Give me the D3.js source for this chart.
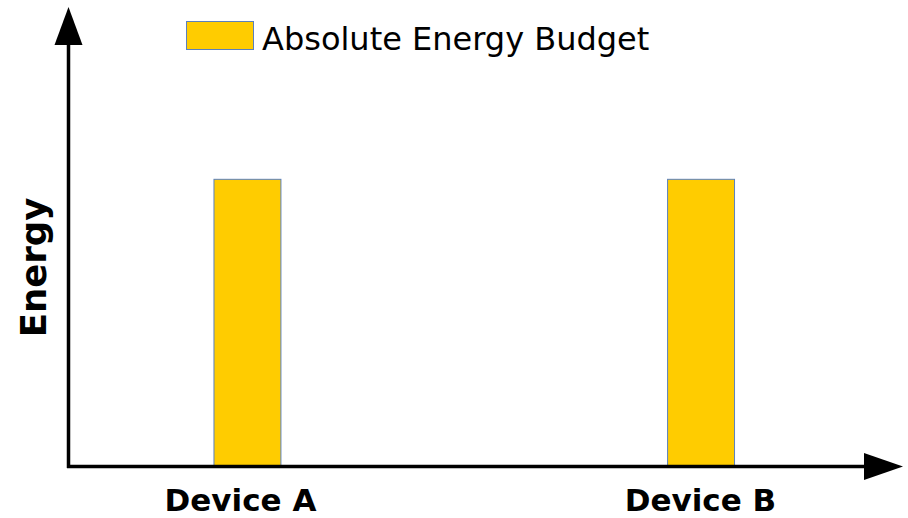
<!DOCTYPE html>
<html>
<head>
<meta charset="utf-8">
<script src="https://cdn.jsdelivr.net/npm/d3@7"></script>
<style>
  html, body { margin: 0; padding: 0; background: #fff; }
  svg { display: block; font-family: "DejaVu Sans", sans-serif; }
</style>
</head>
<body>
<svg id="chart" width="908" height="518"></svg>
<script>
// Chart data
const categories = ["Device A", "Device B"];
const energyValues = [0.625, 0.625];
const seriesName = "Absolute Energy Budget";
const yAxisTitle = "Energy";

const width = 908, height = 518;
const originX = 68.5, originY = 466.5;

const svg = d3.select("#chart");

const x = d3.scaleBand()
  .domain(categories)
  .range([originX, 880])
  .paddingInner(0.8524)
  .paddingOuter(0.3207);

// Category labels sit on their own point scale below the axis
const xLabel = d3.scalePoint()
  .domain(categories)
  .range([240.5, 700.5]);

const y = d3.scaleLinear()
  .domain([0, 1])
  .range([originY, 7]);

// Bars
svg.append("g")
  .selectAll("rect")
  .data(categories.map((c, i) => ({ c, v: energyValues[i] })))
  .join("rect")
  .attr("x", d => x(d.c))
  .attr("y", d => y(d.v))
  .attr("width", x.bandwidth())
  .attr("height", d => y(0) - y(d.v))
  .attr("fill", "#ffcc00")
  .attr("stroke", "#5b80bd")
  .attr("stroke-width", 1);

// Axes with arrowheads
const axes = svg.append("g");
axes.append("line")
  .attr("x1", originX).attr("x2", originX)
  .attr("y1", originY + 1.5).attr("y2", 40)
  .attr("stroke", "#000").attr("stroke-width", 3.5);
axes.append("line")
  .attr("x1", originX - 1.5).attr("x2", 868)
  .attr("y1", originY).attr("y2", originY)
  .attr("stroke", "#000").attr("stroke-width", 3.5);
axes.append("path")
  .attr("d", `M${originX},7 L${originX + 14},45 L${originX - 14},45 Z`)
  .attr("fill", "#000");
axes.append("path")
  .attr("d", `M903,${originY} L864,${originY - 13.5} L864,${originY + 13.5} Z`)
  .attr("fill", "#000");

// Category labels
svg.append("g")
  .selectAll("text")
  .data(categories)
  .join("text")
  .attr("x", d => xLabel(d))
  .attr("y", 511)
  .attr("text-anchor", "middle")
  .attr("font-size", 31)
  .attr("font-weight", "bold")
  .attr("fill", "#000")
  .text(d => d);

// Y axis title
svg.append("text")
  .attr("transform", "translate(46,267.5) rotate(-90)")
  .attr("text-anchor", "middle")
  .attr("font-size", 35.5)
  .attr("font-weight", "bold")
  .attr("fill", "#000")
  .text(yAxisTitle);

// Legend
const legend = svg.append("g");
legend.append("rect")
  .attr("x", 186.5).attr("y", 21.5)
  .attr("width", 67).attr("height", 28)
  .attr("fill", "#ffcc00")
  .attr("stroke", "#5b80bd")
  .attr("stroke-width", 1);
legend.append("text")
  .attr("x", 262).attr("y", 50)
  .attr("font-size", 32)
  .attr("fill", "#000")
  .text(seriesName);
</script>
</body>
</html>
